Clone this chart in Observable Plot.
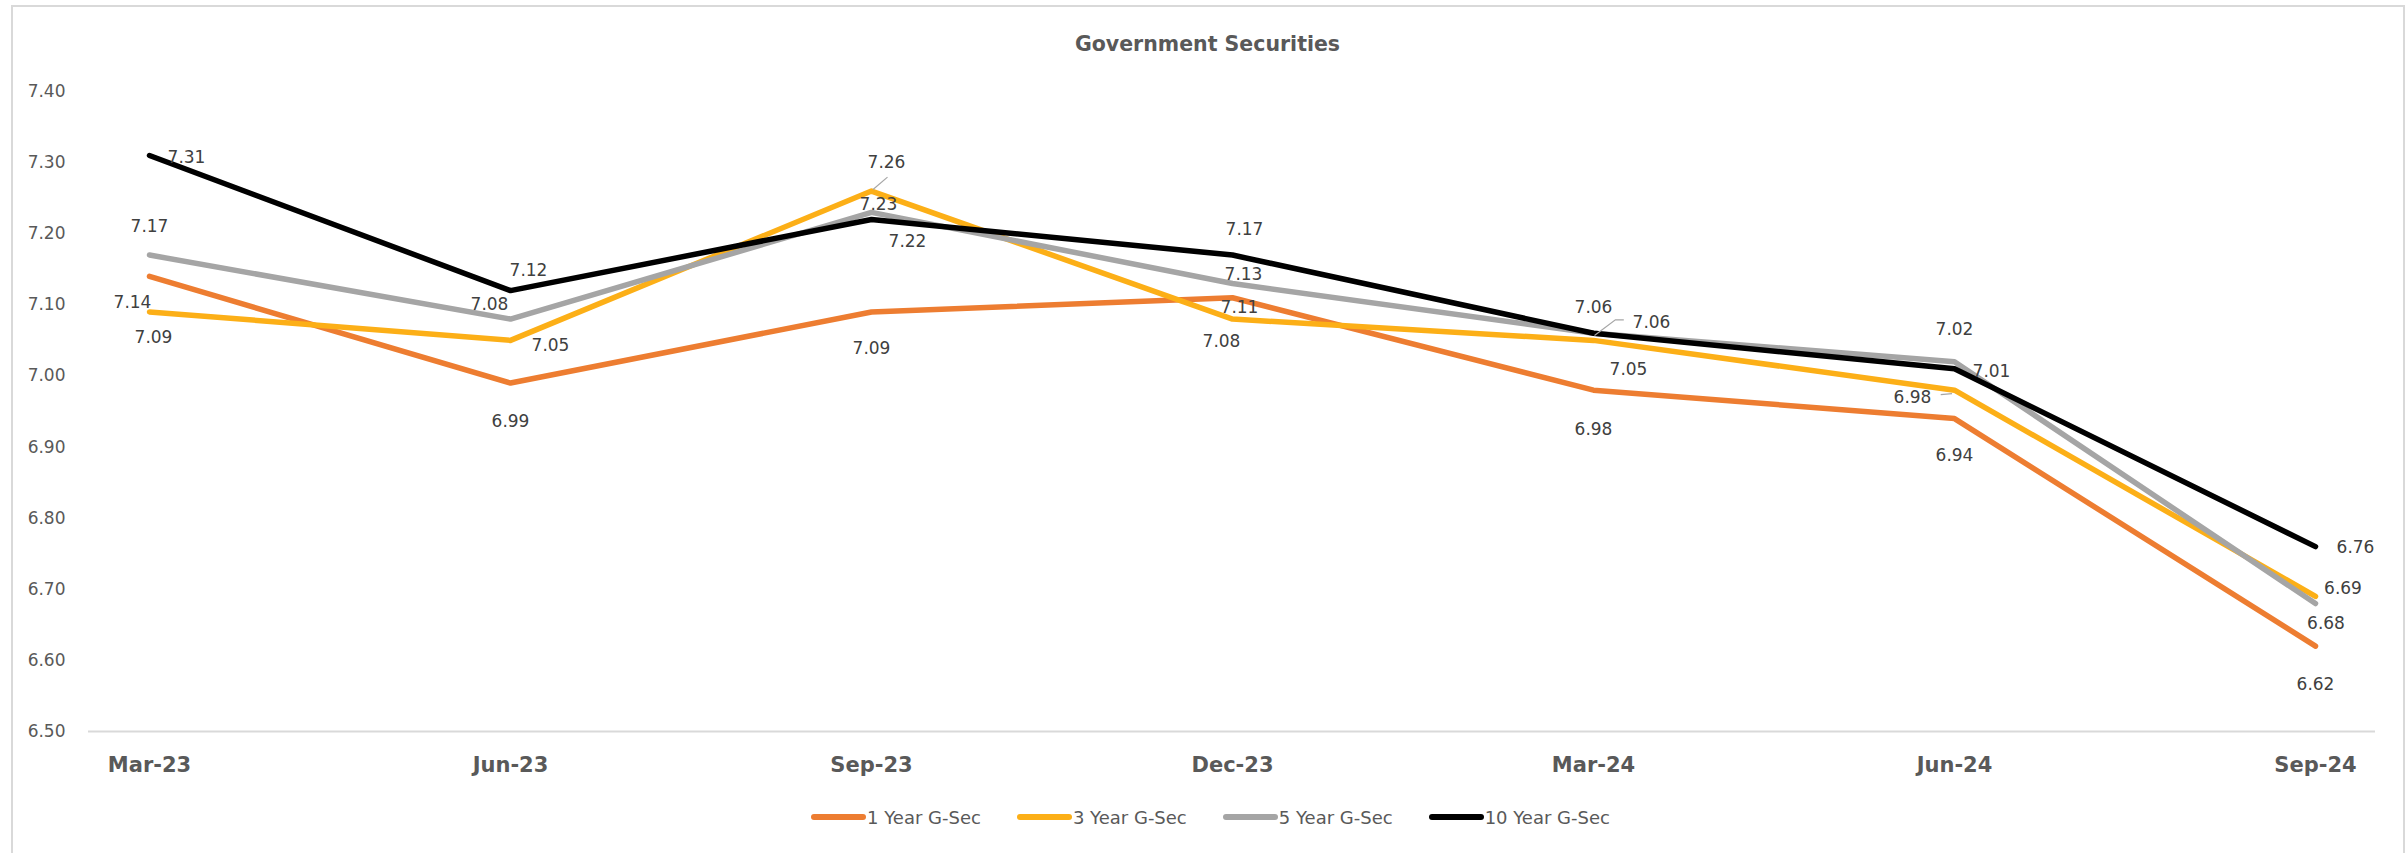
<!DOCTYPE html>
<html><head><meta charset="utf-8">
<script src="https://cdn.jsdelivr.net/npm/d3@7"></script>
<script src="https://cdn.jsdelivr.net/npm/@observablehq/plot@0.6"></script>
<style>
body{margin:0;background:#fff;font-family:"DejaVu Sans",sans-serif;}
#wrap{position:relative;width:2407px;height:853px;overflow:hidden;}
#frame{position:absolute;left:11px;top:5px;width:2394px;height:900px;border:2px solid #d9d9d9;box-sizing:border-box;pointer-events:none;}
#title{height:70px;box-sizing:border-box;padding-top:32px;padding-left:8px;line-height:24px;text-align:center;font-weight:bold;font-size:20.5px;color:#595959;}
#legend{display:flex;justify-content:center;gap:36px;height:54px;align-items:center;padding-left:14px;font-size:18px;color:#595959;}
.item{display:flex;align-items:center;}
.sw{width:55px;height:6px;border-radius:3px;margin-right:1px;}
</style></head>
<body>
<div id="wrap">
<div id="frame"></div>
<div id="title">Government Securities</div>
<div id="chart"></div>
<div id="legend"></div>
</div>
<script>
// ---- data ----
const dates = ["Mar-23","Jun-23","Sep-23","Dec-23","Mar-24","Jun-24","Sep-24"];
const seriesNames = ["1 Year G-Sec","3 Year G-Sec","5 Year G-Sec","10 Year G-Sec"];
const gsec1 = [7.14, 6.99, 7.09, 7.11, 6.98, 6.94, 6.62];
const gsec3 = [7.09, 7.05, 7.26, 7.08, 7.05, 6.98, 6.69];
const gsec5 = [7.17, 7.08, 7.23, 7.13, 7.06, 7.02, 6.68];
const gsec10 = [7.31, 7.12, 7.22, 7.17, 7.06, 7.01, 6.76];
const yTicks = [6.5, 6.6, 6.7, 6.8, 6.9, 7.0, 7.1, 7.2, 7.3, 7.4];

// ---- styles ----
const colors = ["#ED7D31", "#FCAF17", "#A5A5A5", "#000000"];
// label offsets in pixels (dx, dy) relative to each point
const labelOffsets = [
  [[-17,26],[0,38],[0,37],[7,10],[0,39],[0,37],[0,38]],
  [[4,26],[40,5.5],[15,-29],[-11,22],[35,29.5],[-42,7],[27.5,-7.7]],
  [[0,-29],[-21,-15],[7,-7.5],[11,-8.6],[58,-10.6],[0,-32.5],[10.5,20]],
  [[37,2],[18,-20],[36,22],[12,-26],[0,-26],[37,3],[40,1]]
];
// leader lines: series index, date index, pixel path relative to point
const leaders = [
  [1, 2, [[16.5,-13.4],[2,-1]]],
  [2, 4, [[30.8,-13],[22.4,-13],[1.5,2.7]]],
  [1, 5, [[-13.3,5],[-2,4]]]
];

const allSeries = [gsec1, gsec3, gsec5, gsec10];
const rows = [];
allSeries.forEach((vals, s) => vals.forEach((v, i) => rows.push({
  date: dates[i], value: v, series: seriesNames[s],
  dx: labelOffsets[s][i][0], dy: labelOffsets[s][i][1]
})));

const leaderMark = (index, scales) => {
  const g = d3.create("svg:g");
  for (const [s, i, pts] of leaders) {
    const px = scales.x(dates[i]), py = scales.y(allSeries[s][i]);
    g.append("path")
      .attr("d", d3.line()(pts.map(([a,b]) => [px + a, py + b])))
      .attr("fill", "none").attr("stroke", "#A6A6A6").attr("stroke-width", 1.2);
  }
  return g.node();
};

const plot = Plot.plot({
  width: 2407,
  height: 720,
  marginLeft: 88,
  marginRight: 32,
  marginTop: 21,
  marginBottom: 59,
  style: {fontFamily: "DejaVu Sans, sans-serif", fontSize: "17px", color: "#595959", background: "transparent", overflow: "visible"},
  x: {type: "point", domain: dates, padding: 0.163},
  y: {domain: [6.5, 7.4]},
  color: {domain: seriesNames, range: colors},
  marks: [
    Plot.ruleY([6.5], {stroke: "#D9D9D9", strokeWidth: 2}),
    Plot.axisY({ticks: yTicks, tickFormat: d => d.toFixed(2), tickSize: 0, tickPadding: 23, fontSize: 17, fill: "#595959", label: null}),
    Plot.axisX({tickSize: 0, tickPadding: 26, fontSize: 21, fontWeight: "bold", fill: "#595959", label: null}),
    Plot.line(rows, {x: "date", y: "value", z: "series", stroke: "series", strokeWidth: 5.5, strokeLinejoin: "round", strokeLinecap: "round"}),
    leaderMark,
    ...rows.map(r => Plot.text([r], {x: "date", y: "value", text: d => d.value.toFixed(2), dx: r.dx, dy: r.dy, fontSize: 17, fill: "#404040"}))
  ]
});
document.getElementById("chart").appendChild(plot);

const legend = document.getElementById("legend");
seriesNames.forEach((n, i) => {
  const it = document.createElement("div"); it.className = "item";
  const sw = document.createElement("div"); sw.className = "sw"; sw.style.background = colors[i];
  const tx = document.createElement("span"); tx.textContent = n;
  it.appendChild(sw); it.appendChild(tx); legend.appendChild(it);
});
</script>
</body></html>
